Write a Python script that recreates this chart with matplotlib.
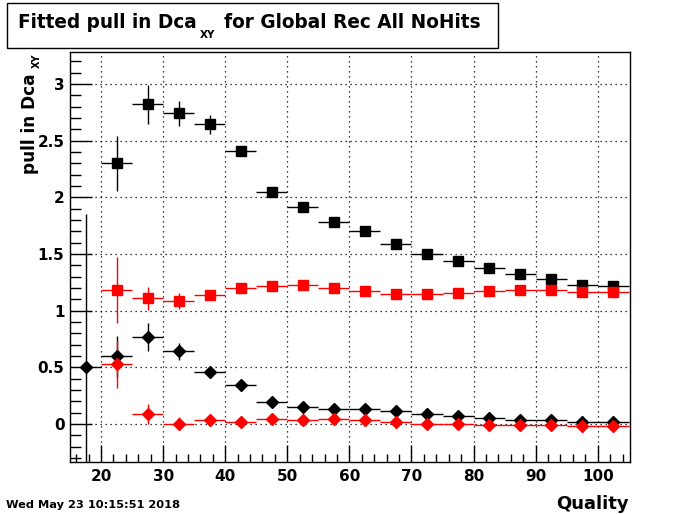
"""
Fitted pull in Dca_XY vs track quality (Global Rec, All NoHits).
ROOT-style canvas redrawn with matplotlib.
"""

import matplotlib
matplotlib.use("Agg")
import matplotlib.pyplot as plt
from matplotlib.patches import Rectangle
from matplotlib.ticker import MultipleLocator, FuncFormatter

# ============================================================
# Data (bin centres, 5 units wide)
# ============================================================

bin_half = 2.5

# black squares
sq_blk_x = [22.5, 27.5, 32.5, 37.5, 42.5, 47.5, 52.5, 57.5, 62.5, 67.5,
            72.5, 77.5, 82.5, 87.5, 92.5, 97.5, 102.5]
sq_blk_y = [2.30, 2.82, 2.74, 2.645, 2.41, 2.044, 1.915, 1.785, 1.70, 1.585,
            1.50, 1.435, 1.38, 1.32, 1.277, 1.23, 1.218]
sq_blk_e = [0.24, 0.17, 0.11, 0.085, 0.04, 0.02, 0.015, 0.01, 0.01, 0.01,
            0.01, 0.01, 0.01, 0.01, 0.01, 0.01, 0.01]

# red squares
sq_red_x = sq_blk_x
sq_red_y = [1.18, 1.109, 1.088, 1.135, 1.197, 1.215, 1.224, 1.20, 1.171, 1.15,
            1.15, 1.159, 1.171, 1.18, 1.18, 1.162, 1.162]
sq_red_e = [0.29, 0.10, 0.07, 0.03, 0.02, 0.015, 0.01, 0.01, 0.01, 0.01,
            0.01, 0.01, 0.01, 0.01, 0.01, 0.01, 0.01]

# black diamonds (first bin only shows the upper half of its x error)
dm_blk_x = [17.5, 22.5, 27.5, 32.5, 37.5, 42.5, 47.5, 52.5, 57.5, 62.5,
            67.5, 72.5, 77.5, 82.5, 87.5, 92.5, 97.5, 102.5]
dm_blk_y = [0.50, 0.597, 0.768, 0.641, 0.456, 0.341, 0.191, 0.147, 0.132, 0.13,
            0.115, 0.085, 0.068, 0.053, 0.035, 0.035, 0.018, 0.015]
dm_blk_e = [1.35, 0.18, 0.12, 0.075, 0.03, 0.02, 0.015, 0.01, 0.01, 0.01,
            0.01, 0.01, 0.01, 0.01, 0.01, 0.01, 0.01, 0.01]
dm_blk_xlo = [0.0] + [bin_half] * 17

# red diamonds
dm_red_x = sq_blk_x
dm_red_y = [0.527, 0.088, 0.003, 0.032, 0.015, 0.041, 0.035, 0.041, 0.035, 0.015,
            0.003, -0.003, -0.009, -0.012, -0.012, -0.015, -0.015]
dm_red_e = [0.205, 0.088, 0.055, 0.02, 0.015, 0.01, 0.01, 0.01, 0.01, 0.01,
            0.01, 0.01, 0.01, 0.01, 0.01, 0.01, 0.01]

plt.rcParams["font.family"] = ["DejaVu Sans"]
plt.rcParams["font.weight"] = "bold"

W, H = 700, 514
fig = plt.figure(figsize=(W / 100, H / 100), dpi=100)
ax = fig.add_axes([70 / W, 1 - 462 / H, 560 / W, 410.5 / H])


def px(x, y):
    """pixel (from top-left) -> figure fraction"""
    return x / W, 1 - y / H


style = dict(linestyle="none", elinewidth=1.0, capsize=0, markersize=6.5)

ax.errorbar(sq_blk_x, sq_blk_y, yerr=sq_blk_e, xerr=bin_half,
            fmt="s", color="black", **style)
ax.errorbar(sq_red_x, sq_red_y, yerr=sq_red_e, xerr=bin_half,
            fmt="s", color="red", **style)
ax.errorbar(dm_blk_x, dm_blk_y, yerr=dm_blk_e,
            xerr=[dm_blk_xlo, [bin_half] * len(dm_blk_x)],
            fmt="D", color="black", **style)
ax.errorbar(dm_red_x, dm_red_y, yerr=dm_red_e, xerr=bin_half,
            fmt="D", color="red", **style)

ax.set_xlim(15, 105.2)
ax.set_ylim(-0.335, 3.287)

ax.xaxis.set_major_locator(MultipleLocator(10))
ax.xaxis.set_minor_locator(MultipleLocator(2))
ax.yaxis.set_major_locator(MultipleLocator(0.5))
ax.yaxis.set_minor_locator(MultipleLocator(0.1))
ax.yaxis.set_major_formatter(FuncFormatter(lambda v, p: f"{v:g}"))
ax.xaxis.set_major_formatter(FuncFormatter(lambda v, p: f"{v:g}"))

ax.tick_params(which="both", direction="in", top=False, right=False, width=1.0)
ax.tick_params(axis="x", which="major", length=12, pad=5, labelsize=11)
ax.tick_params(axis="x", which="minor", length=6)
ax.tick_params(axis="y", which="major", length=16, pad=4, labelsize=11)
ax.tick_params(axis="y", which="minor", length=8)

ax.grid(True, which="major", color="black", linestyle=(0, (1, 3)), linewidth=0.9)
for sp in ax.spines.values():
    sp.set_linewidth(1.0)

renderer = fig.canvas.get_renderer()

# x title
fig.text(*px(629, 509), "Quality", fontsize=13, fontweight="bold",
         ha="right", va="baseline")

# y title: "pull in Dca" + small subscript XY, rotated
fig.text(*px(35.5, 73), "pull in Dca", fontsize=12.2, fontweight="bold",
         rotation=90, rotation_mode="anchor", ha="right", va="baseline")
fig.text(*px(39.5, 67.5), "XY", fontsize=7, fontweight="bold",
         rotation=90, rotation_mode="anchor", ha="left", va="baseline")

# title box
fig.patches.append(Rectangle(px(7, 48), 491 / W, 45 / H,
                             transform=fig.transFigure, facecolor="white",
                             edgecolor="black", linewidth=1.0))
t1 = fig.text(*px(18, 27.7), "Fitted pull in Dca", fontsize=13.35,
              fontweight="bold", ha="left", va="baseline")
x1 = t1.get_window_extent(renderer).x1
t2 = fig.text(x1 / W + 3 / W, 1 - 38.3 / H, "XY", fontsize=7.5,
              fontweight="bold", ha="left", va="baseline")
x2 = t2.get_window_extent(renderer).x1
fig.text(x2 / W + 9 / W, 1 - 27.7 / H, "for Global Rec All NoHits",
         fontsize=13.35, fontweight="bold", ha="left", va="baseline")

fig.text(*px(6, 508), "Wed May 23 10:15:51 2018",
         fontsize=8.2, fontweight="bold", ha="left", va="baseline")

fig.savefig("out.png", dpi=100)
